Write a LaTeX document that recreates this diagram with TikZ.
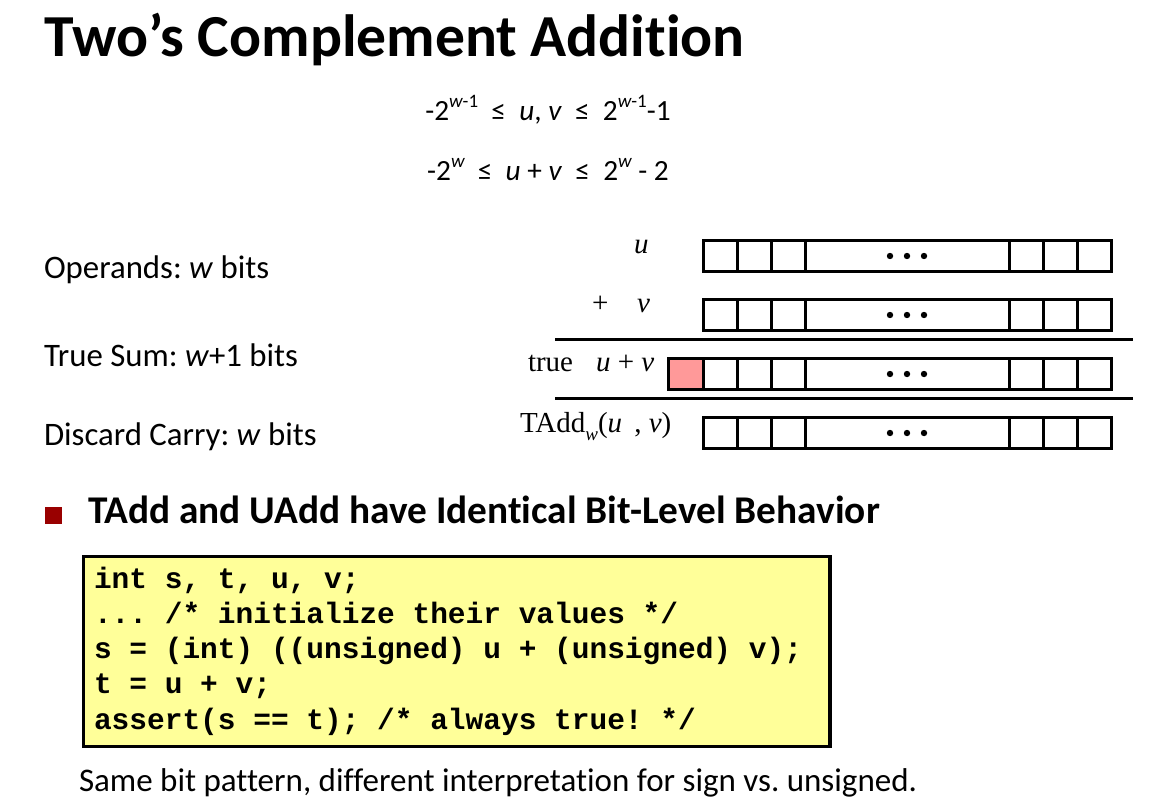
\documentclass[tikz,border=0pt]{standalone}
\usepackage{fontspec}
\setmainfont[Ligatures=NoCommon]{Carlito}
\newfontfamily\serifx{Liberation Serif}
\newfontfamily\monox{Liberation Mono}
\definecolor{pinkbit}{RGB}{255,153,153}
\definecolor{codefill}{RGB}{255,255,153}
\definecolor{bulletred}{RGB}{153,0,0}
\newcommand\supx[1]{\raisebox{0.42em}{\fontsize{19}{19}\selectfont #1}}
\newcommand\fs[1]{\fontsize{#1}{#1}\selectfont}
\frenchspacing
\tikzset{
  txt/.style={inner sep=0pt, outer sep=0pt, anchor=base west},
  bitline/.style={line width=3pt, black},
  ruleline/.style={line width=3pt, black},
  bitlabel/.style={txt, font=\serifx\fs{29}},
  codeline/.style={txt, font=\monox\bfseries\fs{29.5}},
  sidelabel/.style={txt, font=\fs{32.8}},
}
\newcommand\bitrow[1]{%
  \draw[bitline] (703,#1) rectangle (1111,#1+31);
  \foreach \xx in {737,771,805,1009,1043,1077} {\draw[bitline] (\xx,#1) -- (\xx,#1+31);}
  \foreach \xx in {890,907,924} {\fill (\xx,#1+16) circle (3.2);}
}
\begin{document}
\begin{tikzpicture}[x=1pt,y=-1pt]
\useasboundingbox (0,0) rectangle (1160,811);
\fill[white] (0,0) rectangle (1160,811);
% title
\node[txt, font=\bfseries\fs{59.6}] (title) at (45,56) {Two’s Complement Addition};
% ranges
\node[inner sep=0pt, anchor=base, font=\fs{29.3}] (range1) at (548,120)
  {-2\supx{\itshape w\upshape -1}\ \ ≤\ \ \textit{u}, \textit{v}\ \ ≤\ \ 2\supx{\itshape w\upshape -1}-1};
\node[inner sep=0pt, anchor=base, font=\fs{29.3}] (range2) at (548,180)
  {-2\supx{\itshape w}\ \ ≤\ \ \textit{u} + \textit{v}\ \ ≤\ \ 2\supx{\itshape w} - 2};
% left labels
\node[sidelabel] (ops) at (44,278) {Operands: \textit{w} bits};
\node[sidelabel] (tsum) at (44,366) {True Sum: \textit{w}+1 bits};
\node[sidelabel] (disc) at (44,445) {Discard Carry: \textit{w} bits};
% bit rows
\bitrow{240}
\bitrow{299}
\fill[pinkbit] (668,358) rectangle (703,389);
\draw[bitline] (668,358) rectangle (703,389);
\bitrow{358}
\bitrow{417}
\draw[ruleline] (555,339) -- (1133,339);
\draw[ruleline] (555,398) -- (1133,398);
% bit labels
\node[bitlabel] (lu) at (634,253) {\itshape u};
\node[bitlabel] (lplus) at (592,312) {+};
\node[bitlabel] (lv) at (637,312) {\itshape v};
\node[bitlabel] (ltrue) at (528,371) {true};
\node[bitlabel] (luv) at (596,371) {\itshape u \upshape+ \itshape v};
\node[bitlabel] (ltadd) at (520,432) {TAdd\raisebox{-0.28em}{\fs{19}\itshape w}(\textit{u}\ \,, \textit{v})};
% heading
\fill[bulletred] (45,507) rectangle (62,524);
\node[txt, font=\bfseries\fs{39.3}] (head) at (88,523.3) {TAdd and UAdd have Identical Bit-Level Behavior};
% code box
\draw[line width=3.5pt, fill=codefill] (83.7,556.7) rectangle (830,746.3);
\node[codeline] (c1) at (94,588.3) {int s, t, u, v;};
\node[codeline] (c2) at (94,623.5) {... /* initialize their values */};
\node[codeline] (c3) at (94,658.7) {s = (int) ((unsigned) u + (unsigned) v);};
\node[codeline] (c4) at (94,693.9) {t = u + v;};
\node[codeline] (c5) at (94,729) {assert(s == t); /* always true! */};
% footer
\node[txt, font=\fs{33}] (foot) at (79,791.7) {Same bit pattern, different interpretation for sign vs. unsigned.};
\end{tikzpicture}
\end{document}
